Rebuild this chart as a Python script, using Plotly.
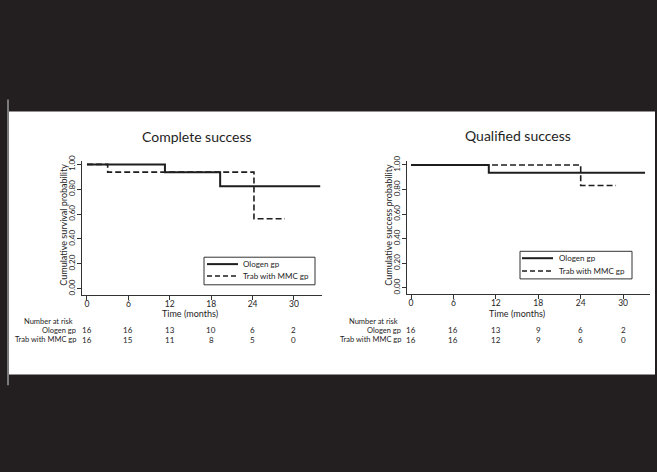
import plotly.graph_objects as go

W, H = 657, 472

# ---------------- data ----------------
titles = ["Complete success", "Qualified success"]
ytitles = ["Cumulative survival probability", "Cumulative success probability"]
group_names = ["Ologen gp", "Trab with MMC gp"]

# Complete success
cs_ologen_t = [0, 11.3, 19.3, 33.8]
cs_ologen_s = [1.0, 0.9375, 0.825, 0.825]
cs_trab_t = [0, 3.0, 24.2, 28.7]
cs_trab_s = [1.0, 0.9375, 0.5625, 0.5625]

# Qualified success
qs_ologen_t = [0, 11.0, 33.1]
qs_ologen_s = [1.0, 0.9375, 0.9375]
qs_trab_t = [0, 24.0, 29.0]
qs_trab_s = [1.0, 0.8333, 0.8333]

risk_times = [0, 6, 12, 18, 24, 30]
cs_risk_ologen = [16, 16, 13, 10, 6, 2]
cs_risk_trab = [16, 15, 11, 8, 5, 0]
qs_risk_ologen = [16, 16, 13, 9, 6, 2]
qs_risk_trab = [16, 16, 12, 9, 6, 0]

yticks = [0, 0.2, 0.4, 0.6, 0.8, 1.0]
ytick_labels = ["0.00", "0.20", "0.40", "0.60", "0.80", "1.00"]
xticks = [0, 6, 12, 18, 24, 30]

FONT = "Lato"
BG = "#231f20"
INK = "#1e1e1e"
DASH = "6px,3px"


def px_x(p):
    return p / W


def px_y(p):
    return 1 - p / H


fig = go.Figure()

panels = [
    dict(ologen=(cs_ologen_t, cs_ologen_s), trab=(cs_trab_t, cs_trab_s),
         risk=(cs_risk_ologen, cs_risk_trab),
         xdom=(82, 322), ydom=(157, 293), xrange=(-0.72, 34.06), yrange=(-0.048, 1.03),
         title_xy=(197, 132), ytitle_x=64, xtitle_y=312,
         legend_box=(204, 255, 315, 283), sample=(207, 238), rows=(262, 274), text_x=241,
         risk_label_x=78),
    dict(ologen=(qs_ologen_t, qs_ologen_s), trab=(qs_trab_t, qs_trab_s),
         risk=(qs_risk_ologen, qs_risk_trab),
         xdom=(407, 650), ydom=(157, 292), xrange=(-0.57, 33.8), yrange=(-0.048, 1.035),
         title_xy=(518, 131), ytitle_x=389, xtitle_y=312,
         legend_box=(520, 249, 632, 277), sample=(522, 553), rows=(256, 269), text_x=557,
         risk_label_x=403),
]

for i, p in enumerate(panels):
    sfx = "" if i == 0 else "2"
    t, s = p["ologen"]
    fig.add_trace(go.Scatter(x=t, y=s, mode="lines", line_shape="hv",
                             line=dict(color=INK, width=2),
                             name=group_names[0], xaxis="x" + sfx, yaxis="y" + sfx,
                             showlegend=False, hoverinfo="skip"))
    t, s = p["trab"]
    fig.add_trace(go.Scatter(x=t, y=s, mode="lines", line_shape="hv",
                             line=dict(color=INK, width=1.6, dash=DASH),
                             name=group_names[1], xaxis="x" + sfx, yaxis="y" + sfx,
                             showlegend=False, hoverinfo="skip"))

layout = dict(
    width=W, height=H,
    margin=dict(l=0, r=0, t=0, b=0),
    paper_bgcolor=BG, plot_bgcolor="white",
    font=dict(family=FONT, color=INK),
    showlegend=False,
)

for i, p in enumerate(panels):
    sfx = "" if i == 0 else "2"
    layout["xaxis" + sfx] = dict(
        domain=[px_x(p["xdom"][0]), px_x(p["xdom"][1])],
        range=list(p["xrange"]), anchor="y" + sfx,
        tickmode="array", tickvals=xticks, ticktext=[str(v) for v in xticks],
        ticks="outside", ticklen=4, tickwidth=1, tickcolor="#333",
        ticklabelstandoff=-3,
        showline=True, linecolor="#333", linewidth=1,
        showgrid=False, zeroline=False,
        tickfont=dict(size=8.5, family=FONT, color=INK),
        fixedrange=True,
    )
    layout["yaxis" + sfx] = dict(
        domain=[px_y(p["ydom"][1]), px_y(p["ydom"][0])],
        range=list(p["yrange"]), anchor="x" + sfx,
        tickmode="array", tickvals=yticks, ticktext=ytick_labels,
        tickangle=-90,
        ticks="outside", ticklen=4, tickwidth=1, tickcolor="#333",
        ticklabelstandoff=-1,
        showline=True, linecolor="#333", linewidth=1,
        showgrid=False, zeroline=False,
        tickfont=dict(size=8, family=FONT, color=INK),
        fixedrange=True,
    )

shapes = [
    dict(type="rect", xref="paper", yref="paper",
         x0=px_x(9), x1=px_x(655), y0=px_y(374), y1=px_y(107),
         fillcolor="white", line=dict(width=0), layer="below"),
    dict(type="line", xref="paper", yref="paper",
         x0=px_x(8), x1=px_x(8), y0=px_y(385), y1=px_y(95),
         line=dict(color="#9a9a9a", width=1.5), layer="below"),
]

annotations = []
for i, p in enumerate(panels):
    sfx = "" if i == 0 else "2"
    # legend box (drawn manually for a compact Stata-like layout)
    bx0, by0, bx1, by1 = p["legend_box"]
    shapes.append(dict(type="rect", xref="paper", yref="paper",
                       x0=px_x(bx0), x1=px_x(bx1), y0=px_y(by1), y1=px_y(by0),
                       fillcolor="white", line=dict(color="#333", width=1)))
    sx0, sx1 = p["sample"]
    r0, r1 = p["rows"]
    shapes.append(dict(type="line", xref="paper", yref="paper",
                       x0=px_x(sx0), x1=px_x(sx1), y0=px_y(r0), y1=px_y(r0),
                       line=dict(color=INK, width=2)))
    shapes.append(dict(type="line", xref="paper", yref="paper",
                       x0=px_x(sx0), x1=px_x(sx1), y0=px_y(r1), y1=px_y(r1),
                       line=dict(color=INK, width=1.6, dash="5px,3px")))
    for name, ry in zip(group_names, (r0, r1)):
        annotations.append(dict(text=name, x=px_x(p["text_x"]), y=px_y(ry), xref="paper", yref="paper",
                                xanchor="left", yanchor="middle", showarrow=False,
                                font=dict(size=8, family=FONT, color=INK)))

    tx, ty = p["title_xy"]
    annotations.append(dict(text=titles[i], x=px_x(tx), y=px_y(ty), xref="paper", yref="paper",
                            xanchor="center", yanchor="middle", showarrow=False,
                            font=dict(size=14, family=FONT, color=INK)))
    annotations.append(dict(text=ytitles[i], x=px_x(p["ytitle_x"]), y=px_y(222), xref="paper", yref="paper",
                            xanchor="center", yanchor="middle", textangle=-90, showarrow=False,
                            font=dict(size=9, family=FONT, color=INK)))
    annotations.append(dict(text="Time (months)", x=15, y=px_y(p["xtitle_y"]), xref="x" + sfx, yref="paper",
                            xanchor="center", yanchor="middle", showarrow=False,
                            font=dict(size=9, family=FONT, color=INK)))
    rl = px_x(p["risk_label_x"])
    annotations.append(dict(text="Number at risk", x=rl - px_x(3), y=px_y(320), xref="paper", yref="paper",
                            xanchor="right", yanchor="middle", showarrow=False,
                            font=dict(size=7.5, family=FONT, color=INK)))
    for g, (name, row_y) in enumerate(zip(group_names, [329, 339])):
        annotations.append(dict(text=name, x=rl, y=px_y(row_y), xref="paper", yref="paper",
                                xanchor="right", yanchor="middle", showarrow=False,
                                font=dict(size=7.5, family=FONT, color=INK)))
        for tt, n in zip(risk_times, p["risk"][g]):
            annotations.append(dict(text=str(n), x=tt, y=px_y(row_y), xref="x" + sfx, yref="paper",
                                    xanchor="center", yanchor="middle", showarrow=False,
                                    font=dict(size=8, family=FONT, color=INK)))

layout["shapes"] = shapes
layout["annotations"] = annotations

fig.update_layout(**layout)
fig.write_html(
    "out.html",
    config={"displayModeBar": False},
    post_script="document.body.style.margin='0';document.body.style.padding='0';"
                "document.body.style.overflow='hidden';document.body.style.background='#231f20';",
)
